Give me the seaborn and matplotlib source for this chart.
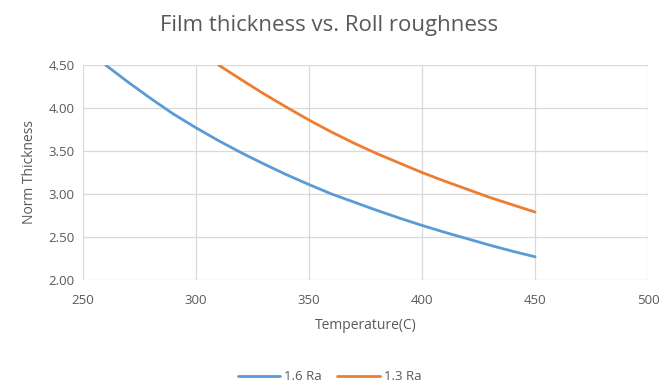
import matplotlib
matplotlib.use("Agg")
import matplotlib.pyplot as plt
import seaborn as sns
import pandas as pd
from matplotlib.lines import Line2D

# Film thickness readings per temperature for two roll roughness values
temp_16 = [260, 270, 280, 290, 300, 310, 320, 330, 340, 350, 360, 370, 380, 390,
           400, 410, 420, 430, 440, 450]
thick_16 = [4.50, 4.30, 4.11, 3.93, 3.77, 3.62, 3.48, 3.35, 3.225, 3.11, 3.00, 2.905,
            2.81, 2.72, 2.635, 2.555, 2.48, 2.405, 2.335, 2.27]
temp_13 = [310, 320, 330, 340, 350, 360, 370, 380, 390, 400, 410, 420, 430, 440, 450]
thick_13 = [4.50, 4.33, 4.165, 4.01, 3.86, 3.72, 3.59, 3.47, 3.36, 3.25, 3.15, 3.055,
            2.96, 2.875, 2.79]
series_names = ["1.6 Ra", "1.3 Ra"]
x_ticks = [250, 300, 350, 400, 450, 500]
y_ticks = [2.00, 2.50, 3.00, 3.50, 4.00, 4.50]

df = pd.concat([
    pd.DataFrame({"Temperature": temp_16, "Thickness": thick_16, "Series": series_names[0]}),
    pd.DataFrame({"Temperature": temp_13, "Thickness": thick_13, "Series": series_names[1]}),
])

sns.set_theme(style="white")
plt.rcParams["font.family"] = ["Open Sans", "DejaVu Sans"]
text_col = "#595959"
colors = ["#5B9BD5", "#ED7D31"]

fig = plt.figure(figsize=(6.59, 3.90), dpi=100)
ax = fig.add_axes([83 / 659, 1 - 280 / 390, (648 - 83) / 659, (280 - 65) / 390])

sns.lineplot(data=df, x="Temperature", y="Thickness", hue="Series",
             palette=colors, linewidth=2.0, ax=ax,
             sort=True, estimator=None, legend=False, zorder=3)

ax.set_xlim(250, 500)
ax.set_ylim(2.0, 4.5)
ax.set_xticks(x_ticks)
ax.set_yticks(y_ticks)
ax.set_yticklabels([f"{v:.2f}" for v in y_ticks])
ax.grid(True, color="#D9D9D9", linewidth=0.9, zorder=0)
ax.set_axisbelow(True)
for s in ax.spines.values():
    s.set_visible(False)
ax.tick_params(axis="both", colors=text_col, labelsize=9.5, length=0)
ax.tick_params(axis="x", pad=10)
ax.tick_params(axis="y", pad=6)

ax.set_xlabel("Temperature(C)", color=text_col, fontsize=10, labelpad=8)
ax.set_ylabel("Norm Thickness", color=text_col, fontsize=10, labelpad=8)

fig.text(0.5, 1 - 25 / 390, "Film thickness vs. Roll roughness", ha="center", va="center",
         color=text_col, fontsize=16)

handles = [Line2D([0], [0], color=c, lw=2.0) for c in colors]
fig.legend(handles, series_names, loc="center", bbox_to_anchor=(0.5, 1 - 377 / 390),
           ncol=2, frameon=False, fontsize=9.5, labelcolor=text_col,
           handlelength=3.2, handletextpad=0.3, columnspacing=1.2)

fig.savefig("out.png", dpi=100)
